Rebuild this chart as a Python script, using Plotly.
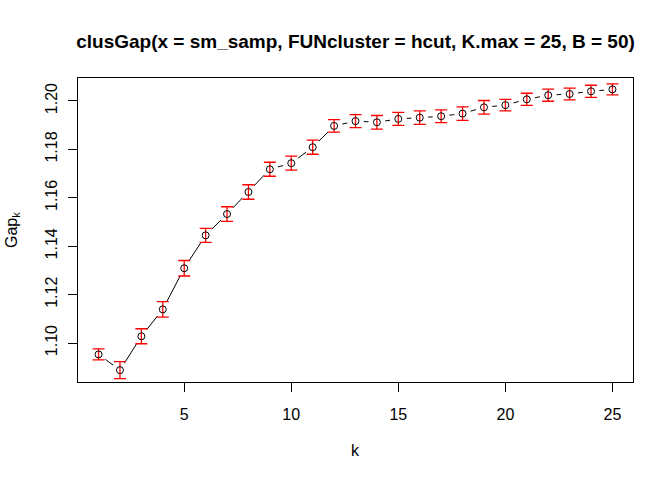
import plotly.graph_objects as go

# clusGap result
k = list(range(1, 26))
gap = [1.0953, 1.0888, 1.1028, 1.1139, 1.1309, 1.1445, 1.1533, 1.1624, 1.1718, 1.1743,
       1.1809, 1.1897, 1.1917, 1.1912, 1.1926, 1.1931, 1.1937, 1.1948, 1.1974, 1.1983,
       1.2007, 1.2024, 1.2029, 1.2040, 1.2048]
se = [0.0023, 0.0035, 0.0031, 0.0032, 0.0032, 0.0029, 0.0030, 0.0030, 0.0029, 0.0029,
      0.0029, 0.0026, 0.0027, 0.0028, 0.0027, 0.0028, 0.0026, 0.0028, 0.0028, 0.0024,
      0.0025, 0.0025, 0.0024, 0.0025, 0.0023]
x_ticks = [5, 10, 15, 20, 25]
y_ticks = [1.10, 1.12, 1.14, 1.16, 1.18, 1.20]

title_text = "clusGap(x = sm_samp, FUNcluster = hcut, K.max = 25, B = 50)"
font = "Arial, Liberation Sans, sans-serif"

fig = go.Figure()

# line through the points (type = "b" look: white discs cut gaps round the points)
fig.add_trace(go.Scatter(x=k, y=gap, mode='lines',
                         line=dict(color='black', width=1), hoverinfo='skip'))
fig.add_trace(go.Scatter(x=k, y=gap, mode='markers',
                         marker=dict(size=17, color='white', line=dict(width=0)),
                         hoverinfo='skip'))

# red error bars
fig.add_trace(go.Scatter(x=k, y=gap, mode='markers',
                         marker=dict(size=1, color='rgba(0,0,0,0)'),
                         error_y=dict(type='data', array=se, visible=True,
                                      color='red', thickness=1.3, width=6)))

# open circles
fig.add_trace(go.Scatter(x=k, y=gap, mode='markers',
                         marker=dict(symbol='circle-open', size=7, color='black',
                                     line=dict(width=1, color='black'))))

fig.update_layout(
    width=672, height=480,
    margin=dict(l=78, r=39, t=78, b=98),
    paper_bgcolor='white', plot_bgcolor='white',
    showlegend=False,
    font=dict(family=font, size=16, color='black'),
    title=dict(text="<b>" + title_text + "</b>", x=0.5, xref='paper', xanchor='center',
               y=1 - 41 / 480, yref='container', yanchor='middle',
               font=dict(family=font, size=19, color='black')),
    xaxis=dict(range=[0.04, 25.96], tickvals=x_ticks, ticks='outside', ticklen=9,
               tickcolor='black', showgrid=False, zeroline=False,
               showline=True, linecolor='black', linewidth=1, mirror=True,
               ticklabelstandoff=9, tickfont=dict(size=16)),
    yaxis=dict(range=[1.0839, 1.2095], tickvals=y_ticks, tickformat='.2f',
               tickangle=-90, ticks='outside', ticklen=9, tickcolor='black',
               showgrid=False, zeroline=False,
               showline=True, linecolor='black', linewidth=1, mirror=True,
               ticklabelstandoff=5, tickfont=dict(size=16)),
    annotations=[
        dict(text="k", xref='paper', yref='paper', x=0.5, y=(382 - 450) / 304,
             showarrow=False, xanchor='center', yanchor='middle',
             font=dict(family=font, size=16)),
        dict(text="Gap<sub>k</sub>", xref='paper', yref='paper', x=(12 - 78) / 555, y=0.5,
             textangle=-90, showarrow=False, xanchor='center', yanchor='middle',
             font=dict(family=font, size=16)),
    ],
)

# drop the default 8px body margin so the figure sits at the page corner
fig.write_html("out.html", config={'displayModeBar': False},
               post_script="document.body.style.margin='0';")
